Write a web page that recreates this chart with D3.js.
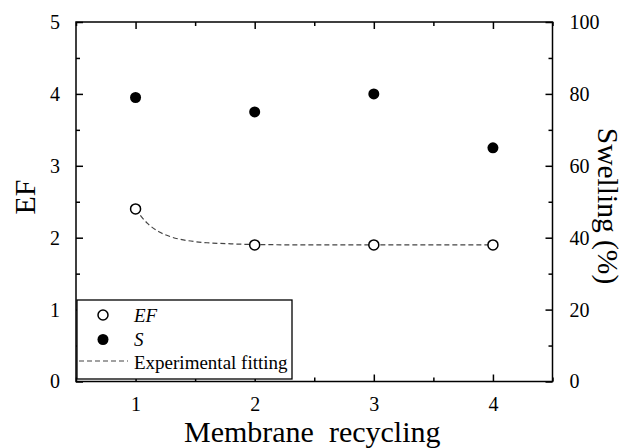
<!DOCTYPE html>
<html><head><meta charset="utf-8">
<script src="https://cdn.jsdelivr.net/npm/d3@7"></script>
<style>
html,body{margin:0;padding:0;background:#fff;}
svg text{font-family:"Liberation Serif",serif !important;fill:#000;}
</style></head>
<body>
<svg id="chart" width="626" height="448"></svg>
<script>
// Data
const cycles = [1, 2, 3, 4];
const efValues = [2.4, 1.9, 1.9, 1.9];
const swellingValues = [79, 75, 80, 65];
const fitX = [1.0, 1.05, 1.1, 1.2, 1.3, 1.4, 1.5, 1.6, 1.8, 2.0, 2.5, 3.0, 3.5, 4.0];
const fitY = [2.4, 2.29, 2.2, 2.08, 2.01, 1.97, 1.945, 1.93, 1.915, 1.905, 1.9, 1.9, 1.9, 1.9];
const xTicks = [1, 2, 3, 4];
const xMinorTicks = [0.5, 1.5, 2.5, 3.5, 4.5];
const yLeftTicks = [0, 1, 2, 3, 4, 5];
const yLeftMinor = [0.5, 1.5, 2.5, 3.5, 4.5];
const yRightTicks = [0, 20, 40, 60, 80, 100];
const yRightMinor = [10, 30, 50, 70, 90];
const legendLabels = ["EF", "S", "Experimental fitting"];

const svg = d3.select("#chart");
const L = 76, R = 552.5, T = 22, B = 381.5;
const x = d3.scaleLinear().domain([0.5, 4.5]).range([L, R]);
const yL = d3.scaleLinear().domain([0, 5]).range([B, T]);
const yR = d3.scaleLinear().domain([0, 100]).range([B, T]);

const major = 7, minor = 4;
const tickFont = 20;

// Fit line (behind markers)
const line = d3.line().x((d, i) => x(fitX[i])).y(d => yL(d)).curve(d3.curveMonotoneX);
svg.append("path").datum(fitY).attr("d", line)
  .attr("fill", "none").attr("stroke", "#444").attr("stroke-width", 1.2)
  .attr("stroke-dasharray", "5,3");

// Axes (ticks inward)
function axisGroup(axis, tx, ty) {
  const g = svg.append("g").attr("transform", `translate(${tx},${ty})`).call(axis);
  g.attr("font-family", null).attr("font-size", null);
  g.selectAll(".domain").remove();
  g.selectAll("line").attr("stroke", "#000").attr("stroke-width", 1.5);
  g.selectAll("text").style("font-size", tickFont + "px");
  return g;
}
// bottom
axisGroup(d3.axisBottom(x).tickValues(xTicks).tickSizeInner(-major).tickSizeOuter(0).tickPadding(15).tickFormat(d3.format("d")), 0, B);
axisGroup(d3.axisBottom(x).tickValues(xMinorTicks).tickSizeInner(-minor).tickSizeOuter(0).tickFormat(""), 0, B);
// top
axisGroup(d3.axisTop(x).tickValues(xTicks).tickSizeInner(-major).tickSizeOuter(0).tickFormat(""), 0, T);
axisGroup(d3.axisTop(x).tickValues(xMinorTicks).tickSizeInner(-minor).tickSizeOuter(0).tickFormat(""), 0, T);
// left
axisGroup(d3.axisLeft(yL).tickValues(yLeftTicks).tickSizeInner(-major).tickSizeOuter(0).tickPadding(16).tickFormat(d3.format("d")), L, 0);
axisGroup(d3.axisLeft(yL).tickValues(yLeftMinor).tickSizeInner(-minor).tickSizeOuter(0).tickFormat(""), L, 0);
// right
axisGroup(d3.axisRight(yR).tickValues(yRightTicks).tickSizeInner(-major).tickSizeOuter(0).tickPadding(17).tickFormat(d3.format("d")), R, 0);
axisGroup(d3.axisRight(yR).tickValues(yRightMinor).tickSizeInner(-minor).tickSizeOuter(0).tickFormat(""), R, 0);

// frame
svg.append("rect").attr("x", L).attr("y", T).attr("width", R - L).attr("height", B - T)
  .attr("fill", "none").attr("stroke", "#000").attr("stroke-width", 1.5);

// markers
svg.append("g").selectAll("circle").data(efValues).join("circle")
  .attr("cx", (d, i) => x(cycles[i])).attr("cy", d => yL(d)).attr("r", 5)
  .attr("fill", "#fff").attr("stroke", "#000").attr("stroke-width", 1.5);
svg.append("g").selectAll("circle").data(swellingValues).join("circle")
  .attr("cx", (d, i) => x(cycles[i])).attr("cy", d => yR(d)).attr("r", 5.5)
  .attr("fill", "#000");

// legend
const lg = svg.append("g");
lg.append("rect").attr("x", 77).attr("y", 300).attr("width", 215).attr("height", 79)
  .attr("fill", "#fff").attr("stroke", "#000").attr("stroke-width", 1.3);
lg.append("circle").attr("cx", 103).attr("cy", 315).attr("r", 5).attr("fill", "#fff").attr("stroke", "#000").attr("stroke-width", 1.5);
lg.append("circle").attr("cx", 103).attr("cy", 339.5).attr("r", 5.5).attr("fill", "#000");
lg.append("line").attr("x1", 79).attr("x2", 128).attr("y1", 361).attr("y2", 361)
  .attr("stroke", "#444").attr("stroke-width", 1.2).attr("stroke-dasharray", "5,3");
const lys = [315, 339.5, 362];
legendLabels.forEach((t, i) => {
  lg.append("text").attr("x", 134).attr("y", lys[i]).attr("dy", "0.35em")
    .style("font-size", "19px").style("font-style", i < 2 ? "italic" : "normal").text(t);
});

// axis titles
svg.append("text").attr("transform", `translate(35,197) rotate(-90)`).attr("text-anchor", "middle")
  .style("font-size", "30px").text("EF");
svg.append("text").attr("x", (L + R) / 2 - 2).attr("y", 442).attr("text-anchor", "middle")
  .style("font-size", "30px").style("white-space", "pre").text("Membrane  recycling");
svg.append("text").attr("transform", `translate(598,206) rotate(90)`).attr("text-anchor", "middle")
  .style("font-size", "29.5px").text("Swelling (%)");
</script>
</body></html>
